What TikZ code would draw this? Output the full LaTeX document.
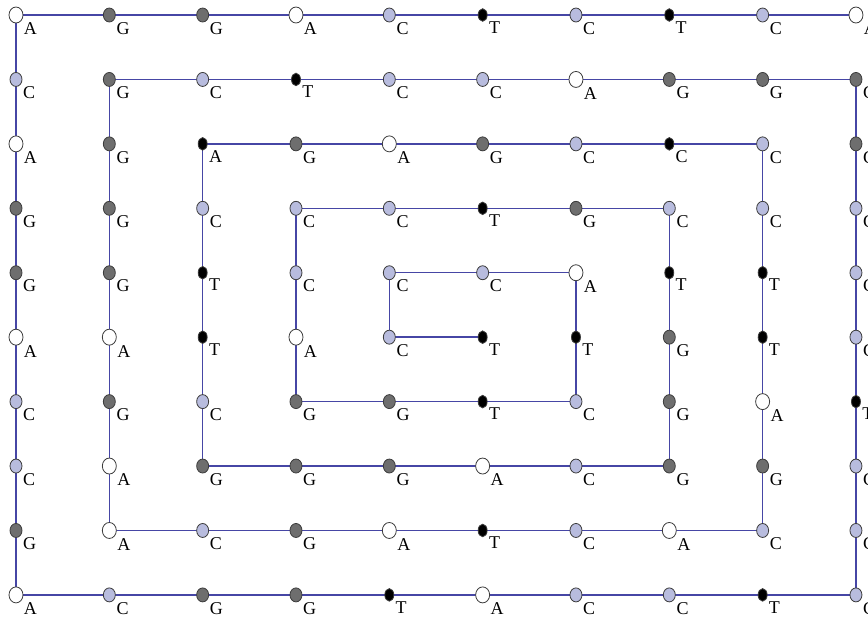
\documentclass[tikz,border=0pt]{standalone}
\usepackage{fontspec}
\setmainfont{Liberation Serif}
\usepackage{xcolor}
\usepackage{tikz}
\usetikzlibrary{shapes}
\definecolor{wireblue}{RGB}{70,70,165}
\definecolor{gbase}{RGB}{110,110,110}
\definecolor{cbase}{RGB}{184,188,222}
\definecolor{rim}{RGB}{60,60,60}
\pgfdeclarelayer{back}
\pgfsetlayers{back,main}

\begin{document}
\begin{tikzpicture}[x=46.67pt,y=-32.22pt,
  base/.style={ellipse,draw=rim,line width=0.4pt,inner sep=0pt},
  wide/.style={base,minimum width=6pt,minimum height=7pt},
  slim/.style={base,fill=black,minimum width=4.5pt,minimum height=6.3pt},
  lbl/.style={anchor=north west,inner sep=1pt,font=\fontsize{9}{10}\selectfont},
  bA/.style={wide,fill=white,minimum width=7pt,minimum height=8pt,label={[lbl]-45:A}},
  bC/.style={wide,fill=cbase,label={[lbl]-45:C}},
  bG/.style={wide,fill=gbase,label={[lbl]-45:G}},
  bT/.style={slim,label={[lbl]-45:T}},
  bAk/.style={slim,label={[lbl]-45:A}},
  bCk/.style={slim,label={[lbl]-45:C}},
  wire/.style={draw=wireblue,line width=0.75pt}]
\useasboundingbox (-0.1714,-0.2328) rectangle (9.129,9.451);
\foreach \row [count=\r from 0] in {
  {A,G,G,A,C,T,C,T,C,A},
  {C,G,C,T,C,C,A,G,G,G},
  {A,G,Ak,G,A,G,C,Ck,C,G},
  {G,G,C,C,C,T,G,C,C,C},
  {G,G,T,C,C,C,A,T,T,C},
  {A,A,T,A,C,T,T,G,T,C},
  {C,G,C,G,G,T,C,G,A,T},
  {C,A,G,G,G,A,C,G,G,C},
  {G,A,C,G,A,T,C,A,C,C},
  {A,C,G,G,T,A,C,C,T,C}}
  \foreach \b [count=\c from 0] in \row
    \node[b\b] (n-\r-\c) at (\c,\r) {};
\begin{pgfonlayer}{back}
\draw[wire] (n-0-9.center) -- (n-0-0.center) -- (n-9-0.center) -- (n-9-9.center)
  -- (n-1-9.center) -- (n-1-1.center) -- (n-8-1.center) -- (n-8-8.center)
  -- (n-2-8.center) -- (n-2-2.center) -- (n-7-2.center) -- (n-7-7.center)
  -- (n-3-7.center) -- (n-3-3.center) -- (n-6-3.center) -- (n-6-6.center)
  -- (n-4-6.center) -- (n-4-4.center) -- (n-5-4.center) -- (n-5-5.center);
\end{pgfonlayer}
\end{tikzpicture}
\end{document}
